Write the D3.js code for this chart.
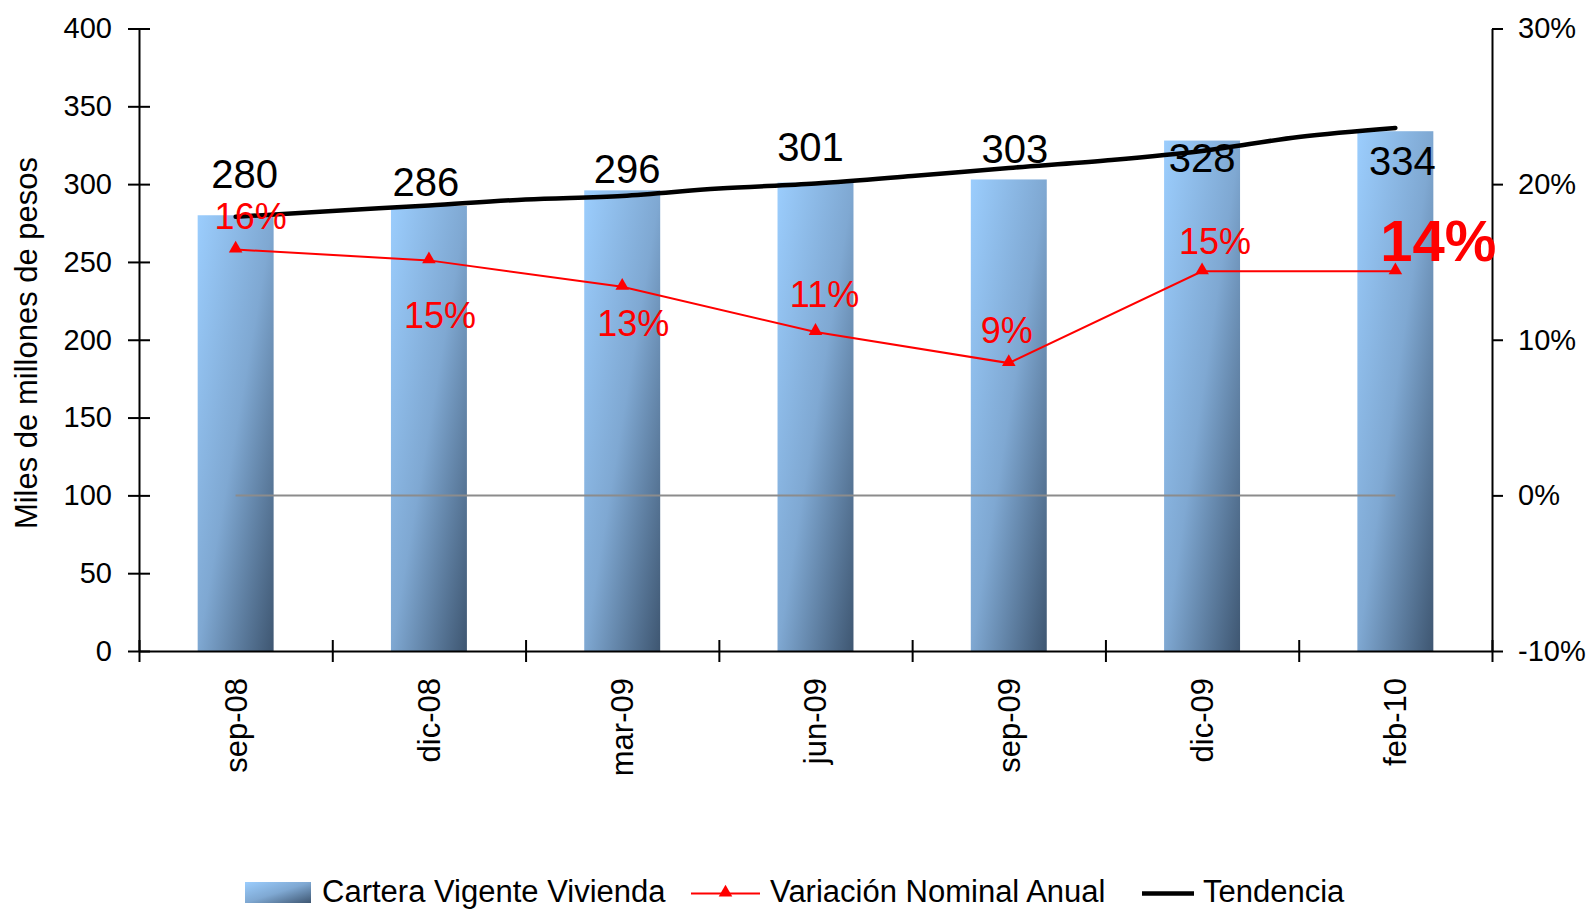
<!DOCTYPE html>
<html>
<head>
<meta charset="utf-8">
<script src="https://cdn.jsdelivr.net/npm/d3@7/dist/d3.min.js"></script>
<style>
  html, body { margin: 0; padding: 0; background: #fff; }
  svg { display: block; font-family: "Liberation Sans", Arial, sans-serif; }
</style>
</head>
<body>
<div id="chart"></div>
<script>

/* Data */
/* ---- */

var categories = ['sep-08', 'dic-08', 'mar-09', 'jun-09', 'sep-09', 'dic-09', 'feb-10'];
var cartera = [280, 286, 296, 301, 303, 328, 334];
var variacion = [15.8, 15.1, 13.4, 10.5, 8.5, 14.4, 14.4];
var variacionLabels = ['16%', '15%', '13%', '11%', '9%', '15%', '14%'];
// trend read every half category, sep-08 .. feb-10
var tendencia = [279.0, 282.8, 286.3, 290.1, 292.4, 297.2, 300.4, 305.2, 310.4, 315.2, 321.3, 330.3, 336.1];
var leftTicks = [0, 50, 100, 150, 200, 250, 300, 350, 400];
var rightTicks = [-10, 0, 10, 20, 30];

/* Label nudges (px) */
var barLabelDx = [9, -3, 5, -5, 6, 0, 7];
var barLabelDy = [-27, -10, -7, -22, -16, 31, 44];
var varLabelDx = [15, 11, 11, 9, -2, 13, 43];
var varLabelDy = [-20, 68, 49, -25, -20, -17, -10];

/* Setup */
/* ----- */

var width = 1594, height = 909;
var plot = { left: 139, right: 1492, top: 28.5, bottom: 651 };

var svg = d3.select('#chart').append('svg')
    .attr('width', width)
    .attr('height', height);

var defs = svg.append('defs');
var grad = defs.append('linearGradient')
    .attr('id', 'barGrad')
    .attr('x1', 0).attr('y1', 0).attr('x2', 1).attr('y2', 1);
grad.append('stop').attr('offset', '0%').attr('stop-color', '#9bcdfd');
grad.append('stop').attr('offset', '50%').attr('stop-color', '#7fa8d2');
grad.append('stop').attr('offset', '100%').attr('stop-color', '#3e5671');

var x = d3.scaleBand().domain(categories).range([plot.left, plot.right]).padding(0);
var xEdge = d3.scaleLinear().domain([0, categories.length]).range([plot.left, plot.right]);
var xMid = d3.scaleLinear().domain([0, categories.length - 1])
    .range([x(categories[0]) + x.bandwidth() / 2, x(categories[categories.length - 1]) + x.bandwidth() / 2]);
var y = d3.scaleLinear().domain([0, 400]).range([plot.bottom, plot.top]);
var y2 = d3.scaleLinear().domain([-10, 30]).range([plot.bottom, plot.top]);

var barW = x.bandwidth() * 0.393;

/* Bars */
/* ---- */

svg.append('g').selectAll('rect')
    .data(cartera)
  .enter().append('rect')
    .attr('x', function(d, i) { return x(categories[i]) + (x.bandwidth() - barW) / 2; })
    .attr('y', function(d) { return y(d); })
    .attr('width', barW)
    .attr('height', function(d) { return y(0) - y(d); })
    .attr('fill', 'url(#barGrad)');

/* Axes */
/* ---- */

var gLeft = svg.append('g')
    .attr('transform', 'translate(' + plot.left + ',0)')
    .call(d3.axisLeft(y).tickValues(leftTicks).tickSizeInner(11).tickSizeOuter(0).tickPadding(16));
gLeft.selectAll('.tick line').attr('x1', 11);

var gRight = svg.append('g')
    .attr('transform', 'translate(' + plot.right + ',0)')
    .call(d3.axisRight(y2).tickValues(rightTicks).tickFormat(function(d) { return d + '%'; })
      .tickSizeInner(11).tickSizeOuter(0).tickPadding(15));

var gX = svg.append('g')
    .attr('transform', 'translate(0,' + plot.bottom + ')')
    .call(d3.axisBottom(xEdge).ticks(categories.length).tickFormat('').tickSizeInner(11).tickSizeOuter(0));
gX.selectAll('.tick line').attr('y1', -11);

var gCat = svg.append('g')
    .attr('transform', 'translate(0,' + plot.bottom + ')')
    .call(d3.axisBottom(x).tickSize(0).tickPadding(0));
gCat.select('.domain').remove();
gCat.selectAll('.tick text')
    .attr('transform', 'translate(0,27) rotate(-90)')
    .attr('text-anchor', 'end')
    .attr('x', 0).attr('y', 0)
    .attr('dy', '0.35em')
    .style('font-size', '31px');

[gLeft, gRight, gX].forEach(function(g) {
  g.selectAll('.domain, .tick line').attr('stroke', '#000').attr('stroke-width', 2);
  g.selectAll('.tick text').style('font-size', '29px').attr('fill', '#000');
});
gCat.selectAll('.tick text').attr('fill', '#000');

svg.append('text')
    .attr('transform', 'translate(37,343) rotate(-90)')
    .attr('text-anchor', 'middle')
    .style('font-size', '31px')
    .text('Miles de millones de pesos');

/* Zero line (secondary) */
/* --------------------- */

svg.append('line')
    .attr('x1', xMid(0)).attr('x2', xMid(categories.length - 1))
    .attr('y1', y2(0)).attr('y2', y2(0))
    .attr('stroke', '#8c8c8c')
    .attr('stroke-width', 2);

/* Trend */
/* ----- */

var trendLine = d3.line()
    .x(function(d, i) { return xMid(i / 2); })
    .y(function(d) { return y(d); })
    .curve(d3.curveMonotoneX);

svg.append('path')
    .datum(tendencia)
    .attr('d', trendLine)
    .attr('fill', 'none')
    .attr('stroke', '#000')
    .attr('stroke-width', 4.5)
    .attr('stroke-linecap', 'round');

/* Variation line */
/* -------------- */

var varLine = d3.line()
    .x(function(d, i) { return xMid(i); })
    .y(function(d) { return y2(d); });

svg.append('path')
    .datum(variacion)
    .attr('d', varLine)
    .attr('fill', 'none')
    .attr('stroke', '#ff0000')
    .attr('stroke-width', 2);

var tri = d3.symbol().type(d3.symbolTriangle).size(80);

svg.append('g').selectAll('path')
    .data(variacion)
  .enter().append('path')
    .attr('d', tri)
    .attr('transform', function(d, i) { return 'translate(' + xMid(i) + ',' + (y2(d) - 1) + ')'; })
    .attr('fill', '#ff0000');

/* Labels */
/* ------ */

svg.append('g').selectAll('text')
    .data(cartera)
  .enter().append('text')
    .attr('x', function(d, i) { return xMid(i) + barLabelDx[i]; })
    .attr('y', function(d, i) { return y(d) + barLabelDy[i]; })
    .attr('text-anchor', 'middle')
    .style('font-size', '40px')
    .attr('fill', '#000')
    .text(function(d) { return d; });

svg.append('g').selectAll('text')
    .data(variacion)
  .enter().append('text')
    .attr('x', function(d, i) { return xMid(i) + varLabelDx[i]; })
    .attr('y', function(d, i) { return y2(d) + varLabelDy[i]; })
    .attr('text-anchor', 'middle')
    .style('font-size', function(d, i) { return i === variacion.length - 1 ? '58px' : '36px'; })
    .style('font-weight', function(d, i) { return i === variacion.length - 1 ? 'bold' : 'normal'; })
    .attr('fill', '#ff0000')
    .text(function(d, i) { return variacionLabels[i]; });

/* Legend */
/* ------ */

var lg = svg.append('g').style('font-size', '31px');

lg.append('rect')
    .attr('x', 245).attr('y', 882).attr('width', 66).attr('height', 21)
    .attr('fill', 'url(#barGrad)');
lg.append('text').attr('x', 322).attr('y', 902).text('Cartera Vigente Vivienda');

lg.append('line')
    .attr('x1', 691).attr('x2', 760).attr('y1', 893.5).attr('y2', 893.5)
    .attr('stroke', '#ff0000').attr('stroke-width', 2);
lg.append('path')
    .attr('d', tri)
    .attr('transform', 'translate(725.5,892.5)')
    .attr('fill', '#ff0000');
lg.append('text').attr('x', 770).attr('y', 902).text('Variación Nominal Anual');

lg.append('line')
    .attr('x1', 1142).attr('x2', 1194).attr('y1', 893.5).attr('y2', 893.5)
    .attr('stroke', '#000').attr('stroke-width', 4.5);
lg.append('text').attr('x', 1203).attr('y', 902).text('Tendencia');

</script>
</body>
</html>
